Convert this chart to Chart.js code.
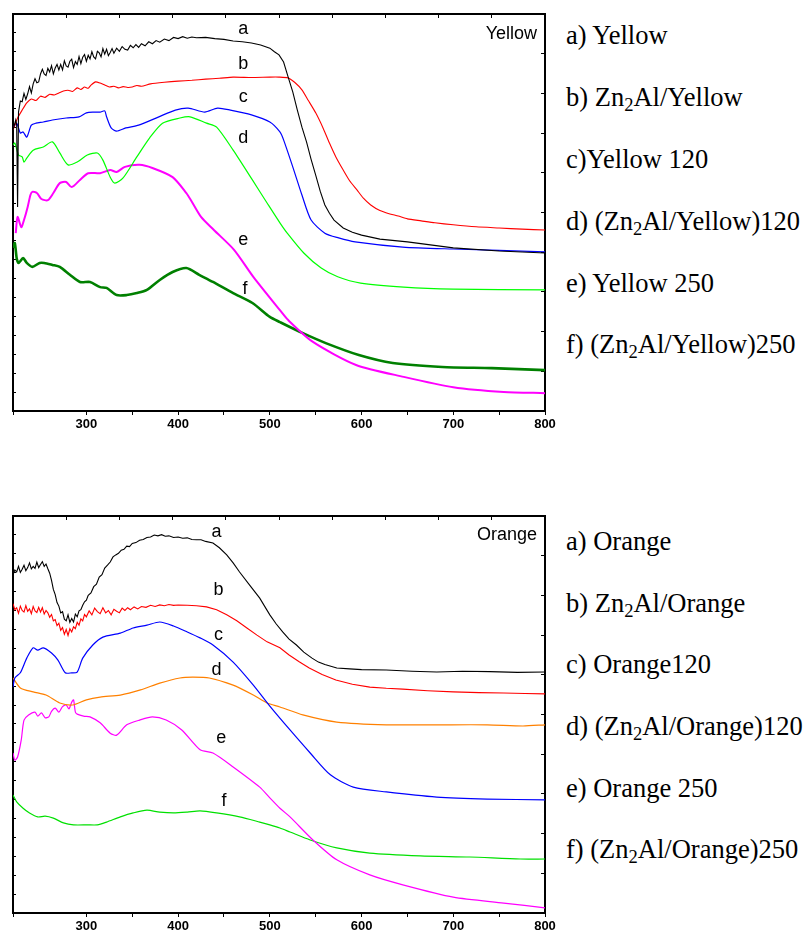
<!DOCTYPE html>
<html>
<head>
<meta charset="utf-8">
<script src="https://cdn.jsdelivr.net/npm/chart.js@4.4.0/dist/chart.umd.min.js"></script>
<style>
    body { margin: 0; background: #fff; width: 806px; height: 936px; position: relative; overflow: hidden; }
    canvas { position: absolute; left: 0; }
    #yellow-chart { top: 0; }
    #orange-chart { top: 500px; }
    .legend {
        position: absolute; left: 566px; margin: 0;
        font-family: "Liberation Serif", "Times New Roman", serif;
        font-size: 26.5px; line-height: 26.5px; color: #000; white-space: nowrap;
    }
    .legend sub { font-size: 0.7em; vertical-align: baseline; position: relative; top: 0.25em; }
</style>
</head>
<body>
<canvas id="yellow-chart" width="560" height="440"></canvas>
<canvas id="orange-chart" width="560" height="436"></canvas>

<div class="legend" style="top:22px">a) Yellow</div>
<div class="legend" style="top:84px">b) Zn<sub>2</sub>Al/Yellow</div>
<div class="legend" style="top:146px">c)Yellow 120</div>
<div class="legend" style="top:208px">d) (Zn<sub>2</sub>Al/Yellow)120</div>
<div class="legend" style="top:270px">e) Yellow 250</div>
<div class="legend" style="top:331px">f) (Zn<sub>2</sub>Al/Yellow)250</div>

<div class="legend" style="top:528px">a) Orange</div>
<div class="legend" style="top:590px">b) Zn<sub>2</sub>Al/Orange</div>
<div class="legend" style="top:651px">c) Orange120</div>
<div class="legend" style="top:713px">d) (Zn<sub>2</sub>Al/Orange)120</div>
<div class="legend" style="top:775px">e) Orange 250</div>
<div class="legend" style="top:836px">f) (Zn<sub>2</sub>Al/Orange)250</div>

<script>
// wavelength (nm), absorbance in arbitrary units (0-100 = panel height)

// --- Yellow panel ---
const yellowA = [[220,70.8],[223,73.3],[224,72.0],[225,51.4],[226,75.3],[228,78.1],[230,77.9],[232,80.0],[234,78.5],[236,79.9],[238,81.7],[240,80.1],[242,82.4],[244,83.7],[246,82.7],[248,82.9],[250,84.9],[252,86.1],[254,84.9],[256,84.5],[258,86.3],[260,85.4],[262,87.0],[264,84.9],[266,86.4],[268,87.3],[270,85.9],[272,87.3],[274,85.9],[276,88.2],[278,86.9],[280,86.6],[282,88.1],[284,88.6],[286,86.5],[288,88.0],[290,87.3],[292,89.3],[294,87.5],[296,89.1],[298,89.8],[300,88.1],[302,89.6],[304,88.7],[306,90.5],[308,89.2],[310,88.7],[312,90.6],[314,90.2],[316,89.2],[318,91.3],[320,89.9],[322,91.1],[324,89.5],[326,90.3],[328,91.3],[330,90.1],[333,91.4],[336,90.6],[339,91.8],[342,91.1],[345,90.9],[348,92.1],[351,91.5],[354,92.3],[357,91.6],[360,92.5],[364,92.0],[368,93.0],[372,92.5],[376,93.3],[380,92.9],[385,93.7],[390,93.3],[395,94.1],[400,93.8],[405,94.3],[410,93.9],[415,94.2],[420,94.0],[430,94.1],[440,93.8],[450,93.6],[460,93.2],[470,93.0],[480,92.7],[490,92.2],[500,91.4],[505,90.5],[510,89.7],[515,87.9],[520,84.1],[525,80.4],[530,75.8],[535,71.5],[540,67.8],[545,63.4],[550,59.4],[555,55.3],[560,51.9],[565,49.8],[570,48.1],[580,46.1],[590,45.0],[600,44.3],[620,43.3],[650,42.6],[700,41.1],[750,40.3],[800,39.8]];
const yellowB = [[220,70.8],[225,73.8],[230,75.8],[235,77.6],[240,78.6],[245,78.2],[250,79.3],[255,79.0],[260,79.8],[265,79.6],[270,80.1],[275,80.6],[280,80.8],[285,80.5],[290,81.4],[294,81.0],[298,81.6],[302,81.3],[305,82.1],[310,82.9],[315,82.6],[320,82.1],[325,81.6],[330,81.8],[335,81.4],[340,81.7],[345,81.5],[350,81.6],[355,82.0],[360,81.8],[370,82.4],[385,82.8],[400,83.1],[415,83.3],[430,83.6],[445,83.8],[460,84.1],[480,84.0],[500,84.1],[510,84.1],[520,83.9],[527,82.8],[535,80.9],[542,78.2],[550,75.1],[558,71.3],[565,67.5],[572,64.0],[580,60.7],[587,58.0],[595,55.7],[602,53.6],[610,51.9],[620,50.5],[630,49.7],[640,49.1],[650,48.4],[665,47.9],[680,47.4],[700,46.9],[725,46.4],[750,46.1],[775,45.8],[800,45.6]];
const yellowC = [[220,71.3],[224,72.5],[228,70.0],[231,70.3],[235,69.0],[240,72.0],[245,72.5],[253,72.8],[263,73.3],[278,73.8],[292,74.1],[300,75.1],[307,75.3],[315,75.3],[320,75.6],[322,74.1],[327,71.3],[333,70.5],[343,71.3],[357,72.0],[379,74.1],[397,75.8],[411,76.3],[429,75.3],[443,76.3],[457,75.8],[480,74.6],[500,72.8],[511,70.3],[515,68.3],[525,61.5],[535,54.4],[545,48.1],[560,44.8],[575,43.6],[593,42.6],[645,41.3],[700,40.8],[800,40.1]];
const yellowD = [[220,67.0],[222,67.5],[226,64.5],[230,64.0],[232,62.7],[235,63.7],[242,65.7],[253,66.5],[263,67.8],[271,65.0],[280,62.0],[290,62.7],[301,64.5],[312,65.0],[318,63.2],[326,58.9],[331,57.4],[340,58.7],[355,64.0],[369,68.8],[383,72.5],[402,73.8],[413,74.1],[431,72.5],[442,71.5],[460,65.7],[481,58.2],[497,52.4],[511,47.4],[519,44.8],[537,39.8],[556,36.0],[574,33.8],[599,32.2],[646,31.2],[700,30.7],[800,30.5]];
const yellowE = [[223,44.8],[225,48.9],[229,46.3],[232,48.1],[236,51.4],[239,54.4],[241,55.2],[246,54.9],[251,53.4],[258,53.1],[264,54.9],[271,57.4],[278,57.7],[284,56.4],[293,58.2],[302,59.9],[315,59.9],[326,60.7],[333,60.2],[342,61.5],[358,62.0],[372,61.2],[394,58.9],[409,54.9],[414,53.1],[425,48.9],[439,45.6],[461,40.6],[482,33.8],[511,25.4],[520,22.9],[547,17.4],[594,11.6],[646,8.6],[700,6.0],[755,4.8],[800,4.5]];
const yellowF = [[220,41.1],[222,42.3],[224,38.5],[226,37.3],[231,38.5],[235,37.3],[241,36.3],[249,37.3],[254,37.3],[263,36.8],[271,36.3],[282,34.3],[293,32.5],[304,32.5],[315,31.2],[322,31.0],[333,29.2],[344,29.2],[355,29.7],[366,30.5],[380,33.0],[394,35.0],[409,36.0],[423,34.3],[438,32.5],[460,29.7],[481,27.2],[500,23.7],[511,22.4],[536,19.6],[561,17.1],[597,14.1],[634,12.1],[688,11.1],[742,10.8],[800,10.3]];

// --- Orange panel ---
const orangeA = [[220,85.2],[222,86.4],[224,85.9],[226,87.3],[228,85.8],[230,86.6],[232,87.6],[234,86.2],[236,87.0],[238,88.2],[240,86.7],[242,87.3],[244,86.8],[246,88.4],[248,87.0],[250,87.8],[252,88.5],[254,87.3],[256,87.9],[258,86.7],[260,85.6],[262,83.8],[264,81.5],[266,80.2],[268,78.2],[270,77.3],[272,75.6],[274,75.9],[276,74.0],[278,73.6],[280,75.1],[282,73.2],[284,74.2],[286,73.3],[288,75.3],[290,74.6],[292,76.1],[294,76.4],[296,77.5],[298,78.4],[300,78.8],[302,80.0],[305,80.6],[308,82.2],[311,82.8],[314,84.6],[317,85.2],[320,86.9],[323,87.6],[326,88.4],[329,89.7],[332,90.2],[335,90.6],[338,91.4],[341,91.6],[344,92.4],[347,92.3],[350,93.1],[354,93.3],[358,93.9],[362,94.1],[366,94.6],[370,94.7],[374,95.2],[378,95.0],[382,95.3],[386,94.9],[390,95.0],[395,94.6],[400,94.7],[405,94.4],[410,94.5],[415,94.1],[420,94.0],[425,94.0],[430,93.6],[438,93.2],[445,92.0],[453,90.2],[460,88.2],[467,85.9],[478,82.6],[489,79.3],[500,75.1],[507,72.8],[514,70.8],[521,69.0],[529,67.5],[537,65.7],[546,64.2],[553,63.2],[560,62.6],[573,61.7],[587,61.5],[600,61.3],[627,61.2],[655,60.9],[682,60.7],[710,60.9],[740,60.8],[770,60.6],[800,60.7]];
const orangeB = [[220,77.9],[222,76.4],[224,76.9],[226,75.5],[228,77.3],[230,76.2],[232,75.8],[234,77.4],[236,76.0],[238,76.6],[240,75.4],[242,77.2],[244,76.1],[246,75.7],[248,77.0],[250,75.8],[252,76.9],[254,75.3],[256,76.2],[258,75.6],[260,74.5],[262,75.2],[264,73.6],[266,73.9],[268,72.4],[270,73.0],[272,71.2],[274,71.9],[276,70.2],[278,71.4],[280,69.9],[282,71.6],[284,70.8],[286,72.1],[288,71.6],[290,73.2],[292,72.5],[294,74.1],[296,73.6],[298,75.2],[300,74.6],[303,76.1],[306,75.1],[309,76.8],[312,75.9],[315,75.4],[318,76.9],[321,75.6],[324,76.2],[327,75.1],[330,76.5],[333,76.0],[336,75.6],[339,76.8],[342,76.2],[345,76.9],[348,76.4],[352,77.1],[356,76.6],[360,77.2],[365,77.0],[370,77.5],[375,77.2],[380,77.6],[385,77.4],[390,77.7],[395,77.5],[400,77.6],[410,77.5],[420,77.4],[431,77.1],[442,76.4],[453,75.1],[464,73.6],[475,71.8],[486,70.0],[497,68.3],[511,66.8],[521,65.0],[532,63.3],[543,61.7],[557,60.1],[572,58.7],[590,57.6],[609,56.9],[627,56.6],[645,56.4],[672,56.0],[700,55.7],[728,55.5],[755,55.4],[778,55.3],[800,55.2]];
const orangeC = [[220,56.9],[222,59.2],[228,60.5],[235,64.2],[242,66.8],[247,66.2],[253,66.8],[262,65.5],[269,63.7],[277,60.5],[284,60.5],[290,60.7],[296,64.2],[307,67.5],[318,69.5],[337,70.5],[351,71.8],[366,72.5],[380,73.3],[395,72.3],[410,70.8],[424,69.3],[438,67.5],[460,63.2],[482,57.4],[500,52.1],[522,46.1],[544,40.3],[566,34.8],[591,31.7],[627,30.5],[682,29.2],[737,28.7],[800,28.5]];
const orangeD = [[220,59.2],[228,56.7],[242,55.7],[256,54.9],[271,52.9],[285,52.4],[300,53.7],[315,54.4],[337,54.9],[359,56.2],[380,57.9],[402,59.2],[416,59.4],[434,59.2],[460,57.4],[482,54.9],[497,52.9],[511,51.9],[536,49.9],[573,48.1],[627,47.4],[682,47.4],[737,47.4],[776,47.1],[800,47.4]];
const orangeE = [[220,40.3],[222,38.5],[225,39.3],[229,43.6],[232,48.6],[237,49.9],[244,50.6],[247,49.6],[251,50.4],[255,49.2],[259,49.4],[262,50.8],[266,51.6],[270,50.6],[274,52.0],[278,52.4],[281,51.4],[284,53.1],[286,53.7],[288,50.6],[290,50.1],[297,49.6],[304,49.4],[315,47.9],[326,45.3],[333,44.8],[344,47.4],[358,48.6],[372,49.4],[387,48.6],[404,46.1],[424,41.1],[438,40.3],[460,36.8],[489,31.7],[500,29.0],[511,26.4],[522,24.2],[547,18.4],[573,13.4],[609,9.6],[645,7.1],[700,4.0],[755,2.5],[800,1.3]];
const orangeF = [[220,29.7],[224,28.0],[231,26.4],[238,25.2],[247,24.2],[255,24.4],[264,23.9],[275,22.7],[286,22.2],[301,22.2],[312,22.2],[322,22.9],[337,24.2],[351,25.2],[366,25.9],[380,25.4],[395,25.2],[410,25.4],[424,25.7],[442,25.2],[467,24.2],[489,22.9],[500,22.2],[511,21.4],[522,20.4],[544,18.4],[573,16.4],[609,15.1],[664,14.4],[718,14.1],[773,13.6],[800,13.6]];

// curve letters, placed in data coordinates
const tagLetters = ["a", "b", "c", "d", "e", "f"];
const yellowTagWl = [471, 471, 471, 471, 471, 473];
const yellowTagVal = [95.0, 86.1, 77.8, 67.5, 41.8, 29.5];
const orangeTagWl = [442, 444, 444, 442, 447, 450];
const orangeTagVal = [94.7, 80.1, 68.8, 59.9, 42.8, 27.0];

const xTicks = [300, 400, 500, 600, 700, 800];

const curveTags = {
    id: "curveTags",
    afterDatasetsDraw(chart, args, opts) {
        const ctx = chart.ctx;
        const xs = chart.scales.x;
        const ys = chart.scales.y;
        ctx.save();
        ctx.fillStyle = "#000";
        ctx.font = '18px "Liberation Sans", Arial, sans-serif';
        ctx.textBaseline = "alphabetic";
        ctx.textAlign = "center";
        tagLetters.forEach((t, i) => {
            ctx.fillText(t, xs.getPixelForValue(opts.wl[i]), ys.getPixelForValue(opts.val[i]));
        });
        ctx.textAlign = "right";
        ctx.fillText(opts.title, chart.chartArea.right - 8, chart.chartArea.top + opts.titleDy);
        ctx.restore();
    },
};

function frameAxis(extra) {
    return Object.assign({
        type: "linear",
        grid: { drawOnChartArea: false, color: "#000", lineWidth: 1, tickLength: -4 },
        border: { color: "#000", width: 2 },
    }, extra);
}

function makePanel(id, series, colors, widths, tensions, tags, topH, bottomH) {
    const datasets = series.map((s, i) => ({
        data: s.map((p) => ({ x: p[0], y: p[1] })),
        borderColor: colors[i],
        borderWidth: widths[i],
        pointRadius: 0,
        tension: tensions[i],
        fill: false,
    }));

    return new Chart(document.getElementById(id).getContext("2d"), {
        type: "line",
        data: { datasets: datasets },
        options: {
            responsive: false,
            animation: false,
            layout: { padding: 0 },
            plugins: { legend: { display: false }, tooltip: { enabled: false }, curveTags: tags },
            scales: {
                x: frameAxis({
                    position: "bottom",
                    min: 220,
                    max: 800,
                    ticks: {
                        stepSize: 50,
                        autoSkip: false,
                        maxRotation: 0,
                        padding: 2,
                        color: "#000",
                        font: { family: '"Liberation Sans", Arial, sans-serif', size: 13, weight: "bold" },
                        callback: (v) => (xTicks.includes(v) ? String(v) : ""),
                    },
                    grid: { drawOnChartArea: false, color: "#000", lineWidth: 1, tickLength: 4 },
                    afterFit: (s) => { s.height = bottomH; },
                }),
                x2: frameAxis({
                    position: "top",
                    min: 0,
                    max: 10,
                    ticks: { display: false, stepSize: 1 },
                    afterFit: (s) => { s.height = topH; },
                }),
                y: frameAxis({
                    position: "left",
                    min: 0,
                    max: 100,
                    ticks: { display: false, stepSize: 100 / 21 },
                    grid: { drawOnChartArea: false, color: "#000", lineWidth: 1, tickLength: -3 },
                    afterFit: (s) => { s.width = 13; },
                }),
                y2: frameAxis({
                    position: "right",
                    min: 0,
                    max: 10,
                    ticks: { display: false, stepSize: 1 },
                    afterFit: (s) => { s.width = 15; },
                }),
            },
        },
        plugins: [curveTags],
    });
}

makePanel(
    "yellow-chart",
    [yellowA, yellowB, yellowC, yellowD, yellowE, yellowF],
    ["#000000", "#ff0000", "#0000ff", "#00ff00", "#ff00ff", "#008000"],
    [1.1, 1.1, 1.2, 1.2, 2, 2.6],
    [0, 0.2, 0.25, 0.25, 0.25, 0.25],
    { wl: yellowTagWl, val: yellowTagVal, title: "Yellow", titleDy: 25 },
    14,
    29
);

makePanel(
    "orange-chart",
    [orangeA, orangeB, orangeC, orangeD, orangeE, orangeF],
    ["#000000", "#ff0000", "#0000ff", "#ff8000", "#ff00ff", "#00e000"],
    [1.1, 1.1, 1.2, 1.2, 1.2, 1.2],
    [0, 0, 0.25, 0.25, 0.25, 0.25],
    { wl: orangeTagWl, val: orangeTagVal, title: "Orange", titleDy: 24 },
    16,
    23
);
</script>
</body>
</html>
